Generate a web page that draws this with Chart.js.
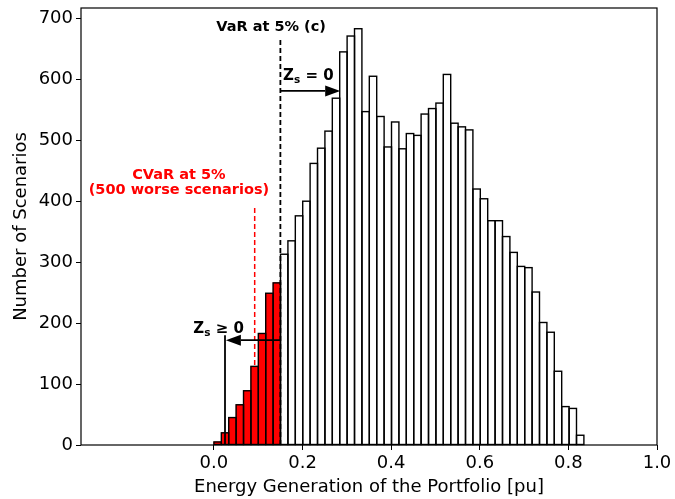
<!DOCTYPE html>
<html>
<head>
<meta charset="utf-8">
<script src="https://cdn.jsdelivr.net/npm/chart.js@4.4.1/dist/chart.umd.min.js"></script>
<style>
  html, body { margin: 0; padding: 0; background: #fff; }
  canvas { display: block; }
</style>
</head>
<body>
<canvas id="chart" width="675" height="499"></canvas>
<script>
// Histogram of portfolio energy generation over the scenario set
const binStart = 0.0;
const binWidth = 0.0167;
const scenarioCounts = [
  5, 20, 45, 66, 89, 129, 183, 249, 266,
  313, 335, 376, 400, 462, 487, 515, 569, 645, 671, 683,
  547, 605, 539, 489, 530, 486, 511, 508, 543, 552,
  561, 608, 528, 522, 517, 420, 404, 368, 368, 342,
  316, 293, 291, 251, 201, 185, 121, 63, 60, 16
];
const tailBins = 9; // bins left of the VaR level (the worst scenarios)

const xTickValues = [0.0, 0.2, 0.4, 0.6, 0.8, 1.0];
const yTickValues = [0, 100, 200, 300, 400, 500, 600, 700];

// risk markers, in data units
const varLevel = 0.15;
const varLineTop = 666;
const cvarLevel = 0.092;
const cvarLineTop = 393;
const zeroArrowY = 581;
const zeroArrowTip = 0.285;
const posArrowY = 172;
const posArrowTip = 0.027;
const posStemX = 0.025;
const posStemTop = 180;

const FONT = '"DejaVu Sans", sans-serif';

const binCenters = scenarioCounts.map((_, i) => +(binStart + binWidth * (i + 0.5)).toFixed(5));
const barColors = scenarioCounts.map((_, i) => (i < tailBins ? '#ff0000' : '#ffffff'));

function line(ctx, x0, y0, x1, y1) {
  ctx.beginPath();
  ctx.moveTo(x0, y0);
  ctx.lineTo(x1, y1);
  ctx.stroke();
}

function arrow(ctx, x0, y, x1) {
  const dir = Math.sign(x1 - x0);
  const headLen = 15, headHalf = 5.5;
  line(ctx, x0, y, x1 - dir * headLen, y);
  ctx.beginPath();
  ctx.moveTo(x1, y);
  ctx.lineTo(x1 - dir * headLen, y - headHalf);
  ctx.lineTo(x1 - dir * headLen, y + headHalf);
  ctx.closePath();
  ctx.fill();
}

// "Z" with subscript s followed by the relation text
function drawZs(ctx, x, y, rest) {
  ctx.textAlign = 'left';
  ctx.textBaseline = 'alphabetic';
  ctx.font = 'bold 15px ' + FONT;
  ctx.fillText('Z', x, y);
  let w = ctx.measureText('Z').width;
  ctx.font = 'bold 10.5px ' + FONT;
  ctx.fillText('s', x + w, y + 3);
  w += ctx.measureText('s').width;
  ctx.font = 'bold 15px ' + FONT;
  ctx.fillText(rest, x + w, y);
}

const riskMarks = {
  id: 'riskMarks',
  beforeDatasetsDraw(chart) {
    // CVaR line sits behind the bars
    const { ctx, scales: { x, y } } = chart;
    ctx.save();
    ctx.strokeStyle = '#ff0000';
    ctx.lineWidth = 1.5;
    ctx.setLineDash([5, 3]);
    const px = x.getPixelForValue(cvarLevel);
    line(ctx, px, y.getPixelForValue(0), px, y.getPixelForValue(cvarLineTop));
    ctx.restore();
  },
  afterDatasetsDraw(chart) {
    const { ctx, scales: { x, y } } = chart;
    ctx.save();

    // bar outlines, stroked on the shared edges
    ctx.strokeStyle = '#000';
    ctx.lineWidth = 1.4;
    chart.getDatasetMeta(0).data.forEach((bar) => {
      const p = bar.getProps(['x', 'y', 'base', 'width'], true);
      ctx.strokeRect(p.x - p.width / 2, p.y, p.width, p.base - p.y);
    });

    // VaR line
    ctx.lineWidth = 1.8;
    ctx.setLineDash([5, 3]);
    const vx = x.getPixelForValue(varLevel);
    line(ctx, vx, y.getPixelForValue(0), vx, y.getPixelForValue(varLineTop));
    ctx.setLineDash([]);

    // arrows
    ctx.fillStyle = '#000';
    ctx.lineWidth = 1.8;
    arrow(ctx, vx, y.getPixelForValue(zeroArrowY), x.getPixelForValue(zeroArrowTip));
    arrow(ctx, vx, y.getPixelForValue(posArrowY), x.getPixelForValue(posArrowTip));
    const sx = x.getPixelForValue(posStemX);
    line(ctx, sx, y.getPixelForValue(0), sx, y.getPixelForValue(posStemTop));

    // labels
    ctx.textAlign = 'center';
    ctx.textBaseline = 'alphabetic';
    ctx.font = 'bold 14.5px ' + FONT;
    ctx.fillText('VaR at 5% (c)', x.getPixelForValue(0.129), y.getPixelForValue(679));

    ctx.fillStyle = '#ff0000';
    ctx.fillText('CVaR at 5%', x.getPixelForValue(-0.079), y.getPixelForValue(436));
    ctx.fillText('(500 worse scenarios)', x.getPixelForValue(-0.079), y.getPixelForValue(412));

    ctx.fillStyle = '#000';
    drawZs(ctx, x.getPixelForValue(0.156), y.getPixelForValue(599), ' = 0');
    drawZs(ctx, x.getPixelForValue(-0.0465), y.getPixelForValue(184), ' \u2265 0');

    ctx.restore();
  },
  afterDraw(chart) {
    const { ctx, chartArea: a } = chart;
    ctx.save();
    ctx.strokeStyle = '#000';
    ctx.lineWidth = 1.2;
    ctx.strokeRect(a.left, a.top, a.right - a.left, a.bottom - a.top);
    ctx.restore();
  }
};

new Chart(document.getElementById('chart'), {
  type: 'bar',
  data: {
    datasets: [{
      data: binCenters.map((c, i) => ({ x: c, y: scenarioCounts[i] })),
      backgroundColor: barColors,
      borderWidth: 0,
      barPercentage: 1,
      categoryPercentage: 1
    }]
  },
  options: {
    responsive: false,
    animation: false,
    devicePixelRatio: 1,
    layout: { padding: { top: 8, right: 18, left: 0, bottom: 0 } },
    plugins: { legend: { display: false }, tooltip: { enabled: false } },
    scales: {
      x: {
        type: 'linear',
        min: -0.3,
        max: 1.0,
        offset: false,
        grid: { offset: false, drawOnChartArea: false, drawTicks: true, tickLength: 5, color: '#000' },
        border: { display: false },
        ticks: {
          color: '#000',
          font: { family: FONT, size: 18 },
          padding: 3,
          maxRotation: 0,
          autoSkip: false,
          callback: (v) => Number(v).toFixed(1)
        },
        afterBuildTicks: (s) => { s.ticks = xTickValues.map((v) => ({ value: v })); },
        afterFit: (s) => { s.height = 54; s.paddingLeft = 0; s.paddingRight = 0; },
        title: {
          display: true,
          text: 'Energy Generation of the Portfolio [pu]',
          color: '#000',
          font: { family: FONT, size: 18 },
          padding: { top: 0, bottom: 1 }
        }
      },
      y: {
        min: 0,
        max: 717,
        grid: { offset: false, drawOnChartArea: false, drawTicks: true, tickLength: 5, color: '#000' },
        border: { display: false },
        ticks: {
          color: '#000',
          font: { family: FONT, size: 18 },
          padding: 3
        },
        afterBuildTicks: (s) => { s.ticks = yTickValues.map((v) => ({ value: v })); },
        afterFit: (s) => { s.width = 81; s.paddingTop = 0; s.paddingBottom = 0; },
        title: {
          display: true,
          text: 'Number of Scenarios',
          color: '#000',
          font: { family: FONT, size: 18 },
          padding: { top: 11, bottom: 0 }
        }
      }
    }
  },
  plugins: [riskMarks]
});
</script>
</body>
</html>
